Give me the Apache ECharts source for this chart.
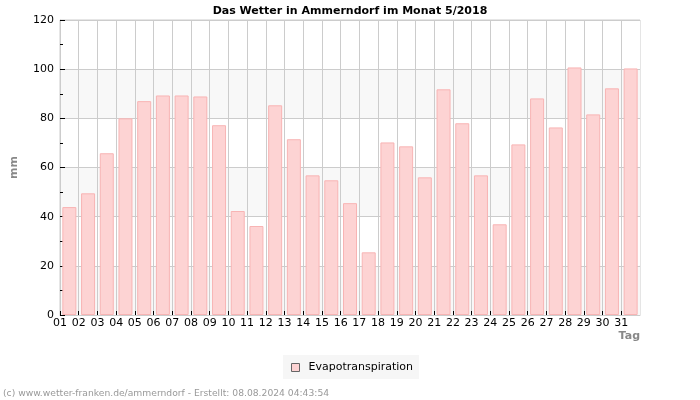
<!DOCTYPE html>
<html>
<head>
<meta charset="utf-8">
<script src="https://cdn.jsdelivr.net/npm/echarts@6/dist/echarts.min.js"></script>
<style>
html,body{margin:0;padding:0;background:#fff;}
#chart{width:700px;height:400px;}
</style>
</head>
<body>
<div id="chart"></div>
<script>
var days = ['01','02','03','04','05','06','07','08','09','10','11','12','13','14','15','16','17','18','19','20','21','22','23','24','25','26','27','28','29','30','31'];
var evapo = [43.9,49.5,65.8,80.0,87.0,89.3,89.3,88.9,77.2,42.3,36.2,85.3,71.5,56.8,54.8,45.5,25.5,70.2,68.6,56.0,91.8,78.0,56.8,36.9,69.4,88.1,76.3,100.7,81.6,92.2,100.3];
var seriesName = 'Evapotranspiration';
var titleText = 'Das Wetter in Ammerndorf im Monat 5/2018';
var footerText = '(c) www.wetter-franken.de/ammerndorf - Erstellt: 08.08.2024 04:43:54';

var dayPositions = days.map(function (d, i) { return i + 1; });

var chart = echarts.init(document.getElementById('chart'), null, {renderer: 'canvas'});
var font = 'DejaVu Sans';
chart.setOption({
  animation: false,
  backgroundColor: '#ffffff',
  title: [{
    text: titleText,
    left: 'center',
    top: 1,
    textStyle: {fontFamily: font, fontSize: 11, fontWeight: 'bold', color: '#000'}
  }, {
    text: footerText,
    left: 3,
    top: 389,
    padding: 0,
    textStyle: {fontFamily: font, fontSize: 9.2, fontWeight: 'normal', color: '#999'}
  }],
  legend: {
    data: [seriesName],
    left: 283,
    top: 355,
    padding: [7, 6, 6, 8],
    backgroundColor: '#f6f6f6',
    icon: 'rect',
    itemWidth: 8,
    itemHeight: 8,
    itemGap: 10,
    itemStyle: {color: '#fdd3d3', borderColor: '#666', borderWidth: 1},
    textStyle: {fontFamily: font, fontSize: 11, color: '#000', padding: [0,0,0,4]}
  },
  grid: {
    left: 60, right: 60, top: 20, bottom: 85,
    containLabel: false,
    outerBoundsMode: 'none',
    show: true, borderColor: '#cccccc', borderWidth: 1, backgroundColor: 'transparent'
  },
  xAxis: [{
    type: 'category',
    data: days,
    boundaryGap: true,
    axisLabel: {show: false},
    axisTick: {show: false},
    axisLine: {show: true, lineStyle: {color: '#cccccc'}},
    splitLine: {show: false}
  }, {
    type: 'value',
    position: 'bottom',
    min: 1, max: 32, interval: 1,
    name: 'Tag',
    nameLocation: 'end',
    nameGap: 0,
    nameTextStyle: {fontFamily: font, fontSize: 11, fontWeight: 'bold', color: '#888', align: 'right', verticalAlign: 'top', padding: [16, 0, 0, 0]},
    axisLine: {show: false},
    axisTick: {show: true, inside: true, length: 4, lineStyle: {color: '#000'}, customValues: dayPositions},
    axisLabel: {
      fontFamily: font, fontSize: 11, color: '#000', margin: 3,
      customValues: dayPositions,
      formatter: function (v) { return v >= 1 && v <= days.length ? days[v - 1] : ''; }
    },
    splitLine: {show: true, lineStyle: {color: '#cccccc'}}
  }],
  yAxis: {
    type: 'value',
    min: 0, max: 120, interval: 20,
    name: 'mm',
    nameLocation: 'middle',
    nameGap: 40,
    nameRotate: 90,
    nameTextStyle: {fontFamily: font, fontSize: 11, fontWeight: 'bold', color: '#888'},
    axisLine: {show: true, lineStyle: {color: '#cccccc'}},
    axisTick: {show: true, inside: true, length: 5, lineStyle: {color: '#000'}},
    minorTick: {show: true, splitNumber: 2, length: 3, lineStyle: {color: '#000'}},
    axisLabel: {fontFamily: font, fontSize: 11, color: '#000', margin: 6},
    splitLine: {show: true, lineStyle: {color: '#cccccc'}},
    splitArea: {show: true, areaStyle: {color: ['#f8f8f8', '#ffffff']}}
  },
  series: [{
    name: seriesName,
    type: 'bar',
    xAxisIndex: 0,
    data: evapo,
    barWidth: 14,
    itemStyle: {color: '#fdd3d3', borderColor: '#f8b4b4', borderWidth: 1}
  }]
});
</script>
</body>
</html>
